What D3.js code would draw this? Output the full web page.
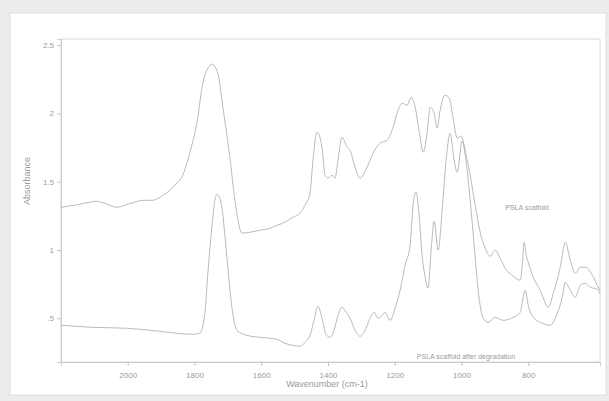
<!DOCTYPE html>
<html>
<head>
<meta charset="utf-8">
<script src="https://cdn.jsdelivr.net/npm/d3@7"></script>
<style>
  html, body { margin: 0; padding: 0; background: #ededee; }
  svg { display: block; }
  text { font-family: "Liberation Sans", Arial, sans-serif; fill: #9a9a9a; }
</style>
</head>
<body>
<svg id="chart" width="609" height="401"></svg>
<script>
// FTIR spectra: wavenumber (cm-1) and absorbance
const scaffoldWavenumber = [2200,2159,2114,2093,2069,2033,2009,1979,1955,1925,1904,1874,1853,1835,1823,1808,1793,1775,1760,1748,1736,1730,1715,1694,1679,1673,1658,1634,1604,1574,1553,1529,1505,1484,1469,1454,1445,1433,1418,1409,1400,1388,1379,1370,1358,1343,1334,1319,1304,1283,1265,1244,1223,1205,1190,1178,1163,1151,1139,1124,1115,1103,1094,1082,1073,1064,1049,1037,1025,1013,1001,986,974,959,944,929,914,899,884,869,845,824,818,812,806,800,785,764,740,725,704,689,674,659,644,629,608,593,585];
const scaffoldAbsorbance = [1.313,1.328,1.350,1.357,1.342,1.313,1.328,1.350,1.364,1.364,1.386,1.438,1.489,1.548,1.636,1.767,1.929,2.222,2.332,2.361,2.332,2.295,2.046,1.679,1.364,1.269,1.123,1.130,1.145,1.159,1.181,1.203,1.240,1.269,1.328,1.416,1.658,1.863,1.753,1.548,1.526,1.548,1.526,1.658,1.826,1.753,1.731,1.606,1.526,1.606,1.709,1.782,1.804,1.899,2.024,2.075,2.060,2.119,2.046,1.826,1.716,1.855,2.046,2.002,1.892,2.024,2.134,2.112,1.965,1.819,1.833,1.694,1.548,1.328,1.130,1.013,0.954,0.998,0.940,0.867,0.808,0.779,0.888,1.057,0.962,0.910,0.800,0.705,0.581,0.683,0.874,1.057,0.925,0.830,0.874,0.874,0.815,0.742,0.705];

const degradedWavenumber = [2200,2105,2003,1904,1853,1805,1784,1769,1760,1748,1739,1733,1724,1718,1703,1688,1673,1643,1604,1553,1529,1505,1484,1469,1454,1442,1430,1418,1406,1394,1382,1370,1358,1346,1334,1319,1304,1286,1274,1262,1250,1238,1229,1214,1199,1184,1169,1154,1145,1136,1127,1118,1109,1100,1091,1082,1070,1058,1046,1034,1022,1013,998,986,974,962,950,935,920,899,875,845,824,815,809,800,785,764,734,713,698,689,674,659,644,629,614,593,585];
const degradedAbsorbance = [0.449,0.434,0.427,0.405,0.390,0.383,0.390,0.537,0.830,1.167,1.364,1.408,1.379,1.313,0.947,0.581,0.412,0.375,0.361,0.346,0.317,0.302,0.295,0.324,0.375,0.485,0.588,0.500,0.383,0.361,0.412,0.522,0.581,0.544,0.500,0.412,0.368,0.427,0.500,0.544,0.500,0.522,0.544,0.485,0.573,0.705,0.888,1.035,1.328,1.423,1.255,0.962,0.800,0.720,0.998,1.211,0.998,1.291,1.658,1.855,1.658,1.570,1.797,1.643,1.364,1.035,0.705,0.500,0.471,0.507,0.485,0.507,0.544,0.654,0.705,0.595,0.507,0.471,0.449,0.537,0.654,0.764,0.705,0.654,0.742,0.756,0.727,0.713,0.683];

const xTicks = [2000, 1800, 1600, 1400, 1200, 1000, 800];
const yTicks = [0.5, 1, 1.5, 2, 2.5];
const yTickLabels = [".5", "1", "1.5", "2", "2.5"];

const seriesNames = ["PSLA scaffold", "PSLA scaffold after degradation"];

const svg = d3.select("#chart");

// page panel
svg.append("rect").attr("x", 0).attr("y", 0).attr("width", 609).attr("height", 401).attr("fill", "#ededee");
svg.append("rect").attr("x", 10).attr("y", 13).attr("width", 596).attr("height", 382)
  .attr("fill", "#ffffff").attr("stroke", "#dedede").attr("stroke-width", 1);

const plot = { left: 61, right: 600, top: 39, bottom: 362 };

const x = d3.scaleLinear().domain([2200, 585]).range([plot.left, plot.right]);
const y = d3.scaleLinear().domain([0.18, 2.545]).range([plot.bottom, plot.top]);

// frame
svg.append("rect")
  .attr("x", plot.left).attr("y", plot.top)
  .attr("width", plot.right - plot.left).attr("height", plot.bottom - plot.top)
  .attr("fill", "none").attr("stroke", "#d8d8d8").attr("stroke-width", 1);

// x axis
const xAxis = svg.append("g")
  .attr("transform", `translate(0,${plot.bottom})`)
  .call(d3.axisBottom(x).tickValues(xTicks).tickSize(4).tickPadding(6).tickFormat(d3.format("d")));
xAxis.select(".domain").attr("stroke", "#cccccc");
xAxis.selectAll(".tick line").attr("stroke", "#c4c4c4");
xAxis.selectAll("text").attr("font-size", 8).attr("fill", "#9a9a9a");

// y axis
const yAxis = svg.append("g")
  .attr("transform", `translate(${plot.left},0)`)
  .call(d3.axisLeft(y).tickValues(yTicks).tickSize(4).tickPadding(3)
    .tickFormat((d, i) => yTickLabels[i]));
yAxis.select(".domain").attr("stroke", "#cccccc");
yAxis.selectAll(".tick line").attr("stroke", "#c4c4c4");
yAxis.selectAll("text").attr("font-size", 8).attr("fill", "#9a9a9a");

// axis titles
svg.append("text")
  .attr("x", 327).attr("y", 387)
  .attr("text-anchor", "middle").attr("font-size", 9)
  .text("Wavenumber (cm-1)");
svg.append("text")
  .attr("transform", "translate(30,181) rotate(-90)")
  .attr("text-anchor", "middle").attr("font-size", 9)
  .text("Absorbance");

// spectra
const line = d3.line()
  .x(d => x(d[0]))
  .y(d => y(d[1]))
  .curve(d3.curveMonotoneX);

const scaffold = scaffoldWavenumber.map((w, i) => [w, scaffoldAbsorbance[i]]);
const degraded = degradedWavenumber.map((w, i) => [w, degradedAbsorbance[i]]);

svg.append("path").datum(scaffold)
  .attr("d", line).attr("fill", "none")
  .attr("stroke", "#b2b2b2").attr("stroke-width", 0.9);
svg.append("path").datum(degraded)
  .attr("d", line).attr("fill", "none")
  .attr("stroke", "#b2b2b2").attr("stroke-width", 0.9);

// series labels
svg.append("text")
  .attr("x", 527).attr("y", 210)
  .attr("text-anchor", "middle").attr("font-size", 7)
  .attr("fill", "#aaaaaa")
  .text(seriesNames[0]);
svg.append("text")
  .attr("x", 466).attr("y", 359)
  .attr("text-anchor", "middle").attr("font-size", 7)
  .attr("fill", "#aaaaaa")
  .text(seriesNames[1]);
</script>
</body>
</html>
